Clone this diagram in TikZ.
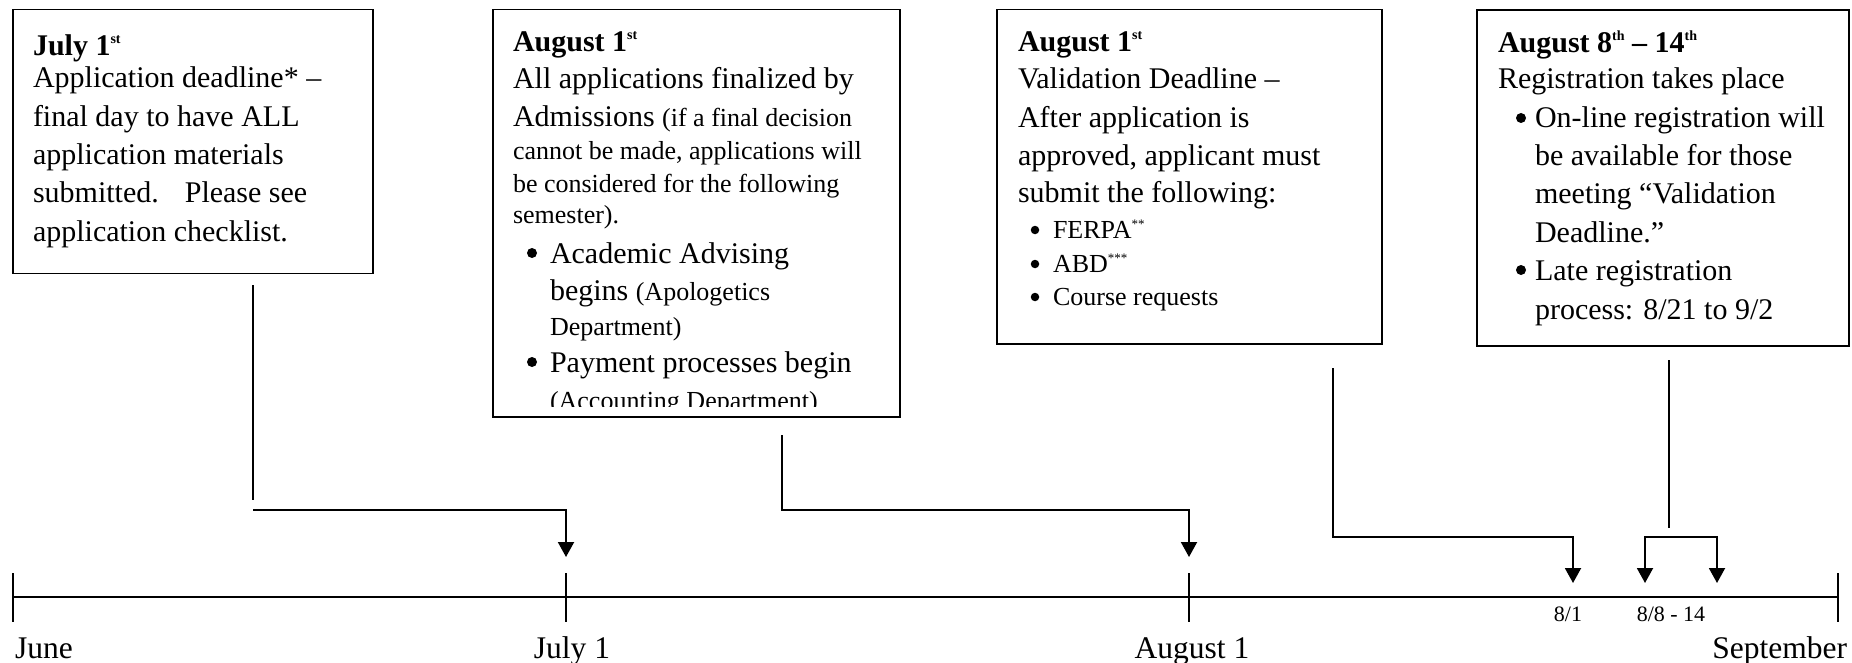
\documentclass[tikz,border=0pt]{standalone}
\usepackage{fontspec}
\setmainfont{Liberation Serif}
\usetikzlibrary{arrows.meta}
\newcommand\supx[1]{\raisebox{0.40em}{\fontsize{14}{14}\selectfont #1}}
\newcommand\supsm[1]{\raisebox{0.35em}{\fontsize{13}{13}\selectfont #1}}
\newcommand\smtxt[1]{{\fontsize{26}{30}\selectfont #1}}
\tikzset{
  box/.style={draw, line width=1.8pt, inner sep=0pt, outer sep=0pt, anchor=north west},
  tl/.style={anchor=base west, inner sep=0pt, outer sep=0pt, font=\fontsize{30}{36}\selectfont},
  sml/.style={anchor=base west, inner sep=0pt, outer sep=0pt, font=\fontsize{26}{30}\selectfont},
  bul/.style={circle, fill, inner sep=0pt, outer sep=0pt, minimum size=10pt},
  sbul/.style={circle, fill, inner sep=0pt, outer sep=0pt, minimum size=8.5pt},
  lab/.style={anchor=base, inner sep=0pt, outer sep=0pt, font=\fontsize{31.5}{36}\selectfont},
  slab/.style={anchor=base, inner sep=0pt, outer sep=0pt, font=\fontsize{22}{26}\selectfont},
  conn/.style={line width=2pt},
  arr/.style={line width=2pt, -{Triangle[width=16pt,length=15pt]}},
  axis/.style={line width=2pt}
}
\begin{document}
\begin{tikzpicture}[x=1pt,y=-1pt]
\useasboundingbox (0,0) rectangle (1852,663);
% boxes
\node[box, minimum width=360pt, minimum height=264pt] (b1) at (13,9.5) {};
\node[box, minimum width=407pt, minimum height=407.5pt] (b2) at (493,9.5) {};
\node[box, minimum width=385pt, minimum height=334.5pt] (b3) at (997,9.5) {};
\node[box, minimum width=372pt, minimum height=336pt] (b4) at (1477,10) {};
% box 1 text
\node[tl] (t1a) at (33,56) {\textbf{July 1\supx{st}}};
\node[tl] (t1b) at (33,88) {Application deadline* –};
\node[tl] (t1c) at (33,126.5) {final day to have ALL};
\node[tl] (t1d) at (33,165) {application materials};
\node[tl] (t1e) at (33,203) {submitted.\hspace{26pt}Please see};
\node[tl] (t1f) at (33,241.5) {application checklist.};
% box 2 text
\node[tl] (t2a) at (513,52) {\textbf{August 1\supx{st}}};
\node[tl] (t2b) at (513,89) {All applications finalized by};
\node[tl] (t2c) at (513,127) {Admissions \smtxt{(if a final decision}};
\node[sml] (t2d) at (513,160) {cannot be made, applications will};
\node[sml] (t2e) at (513,193) {be considered for the following};
\node[sml] (t2f) at (513,224) {semester).};
\node[bul] (u2a) at (532,253) {};
\node[tl] (t2g) at (550,263) {Academic Advising};
\node[tl] (t2h) at (550,300) {begins \smtxt{(Apologetics}};
\node[sml] (t2i) at (550,335) {Department)};
\node[bul] (u2b) at (532,362) {};
\node[tl] (t2j) at (550,372) {Payment processes begin};
\begin{scope}
\clip (493,380) rectangle (900,406);
\node[sml] (t2k) at (550,409) {(Accounting Department)};
\end{scope}
% box 3 text
\node[tl] (t3a) at (1018,52) {\textbf{August 1\supx{st}}};
\node[tl] (t3b) at (1018,89) {Validation Deadline –};
\node[tl] (t3c) at (1018,128) {After application is};
\node[tl] (t3d) at (1018,166) {approved, applicant must};
\node[tl] (t3e) at (1018,203) {submit the following:};
\node[sbul] (u3a) at (1035,230) {};
\node[sml] (t3f) at (1053,238) {FERPA\supsm{**}};
\node[sbul] (u3b) at (1035,264) {};
\node[sml] (t3g) at (1053,272) {ABD\supsm{***}};
\node[sbul] (u3c) at (1035,297) {};
\node[sml] (t3h) at (1053,305) {Course requests};
% box 4 text
\node[tl] (t4a) at (1498,53) {\textbf{August 8\supx{th} – 14\supx{th}}};
\node[tl] (t4b) at (1498,89) {Registration takes place};
\node[bul] (u4a) at (1521,118) {};
\node[tl] (t4c) at (1535,128) {On-line registration will};
\node[tl] (t4d) at (1535,166) {be available for those};
\node[tl] (t4e) at (1535,204) {meeting “Validation};
\node[tl] (t4f) at (1535,242) {Deadline.”};
\node[bul] (u4b) at (1521,270) {};
\node[tl] (t4g) at (1535,280) {Late registration};
\node[tl] (t4h) at (1535,319) {process: 8/21 to 9/2};
% timeline
\coordinate (k0) at (13,597);
\coordinate (k1) at (566,597);
\coordinate (k2) at (1189,597);
\coordinate (k3) at (1838,597);
\draw[axis] (k0) -- (k3);
\foreach \k in {k0,k1,k2,k3} \draw[axis] ([yshift=24pt]\k) -- ([yshift=-25pt]\k);
\node[lab, anchor=base west] (lJune) at (15,658) {June};
\node[lab] (lJuly) at (572,658) {July 1};
\node[lab] (lAug) at (1192,658) {August 1};
\node[lab, anchor=base east] (lSep) at (1847,658) {September};
\node[slab] (l81) at (1568,621) {8/1};
\node[slab] (l88) at (1671,621) {8/8 - 14};
% connectors
\coordinate (s1) at (253,285);
\coordinate (e1) at (253,500);
\coordinate (s1b) at (253,510);
\coordinate (a1) at (566,557);
\draw[conn] (s1) -- (e1);
\draw[arr] (s1b) -| (a1);
\coordinate (s2) at (782,435);
\coordinate (m2) at (1189,510);
\coordinate (a2) at (1189,557);
\draw[arr] (s2) |- (m2) -- (a2);
\coordinate (s3) at (1333,368);
\coordinate (m3) at (1573,537);
\coordinate (a3) at (1573,583);
\draw[arr] (s3) |- (m3) -- (a3);
\coordinate (s4) at (1669,360);
\coordinate (e4) at (1669,528);
\coordinate (m4l) at (1645,537);
\coordinate (m4r) at (1717,537);
\coordinate (a4l) at (1645,583);
\coordinate (a4r) at (1717,583);
\draw[conn] (s4) -- (e4);
\draw[arr] (m4r) -- (m4l) -- (a4l);
\draw[arr] (m4l) -- (m4r) -- (a4r);
\end{tikzpicture}
\end{document}
